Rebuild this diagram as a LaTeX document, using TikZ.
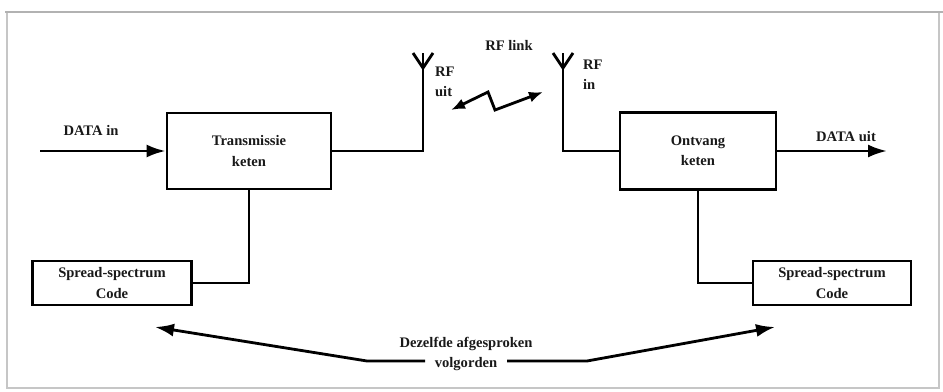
\documentclass[tikz,border=0pt]{standalone}
\usepackage{fontspec}
\setmainfont{Liberation Serif}
\usetikzlibrary{arrows.meta, positioning}

\begin{document}
\begin{tikzpicture}[
    x=0.02cm, y=-0.02cm,
    every node/.style={font=\bfseries\fontsize{8.3}{11.5}\selectfont, text=black!90},
    block/.style={draw, rectangle, line width=1.6pt, align=center, fill=white},
    codebox/.style={block, minimum height=0.88cm},
    wire/.style={line width=1.6pt},
    arrow/.style={wire, -{Latex[length=3.8mm, width=2.6mm]}},
    ziparrow/.style={wire, {Latex[length=2.8mm, width=2.2mm]}-{Latex[length=2.8mm, width=2.2mm]}},
    label/.style={align=center, inner sep=1pt}
  ]
    \useasboundingbox (0,0) rectangle (943,392);
    % Frame
    \draw[gray!45, line width=0.6pt] (7,12) rectangle (939,388);
    \draw[gray!60, line width=1.6pt] (5,12) -- (943,12);

    % Nodes (blocks)
    \node[block, minimum width=3.28cm, minimum height=1.52cm] (trans) at (249,151) {Transmissie\\keten};
    \node[block, minimum width=3.12cm, minimum height=1.54cm] (recv) at (698,151) {Ontvang\\keten};
    \node[codebox, minimum width=3.18cm] (codeL) at (112,283) {Spread-spectrum\\Code};
    \node[codebox, minimum width=3.16cm] (codeR) at (832,283) {Spread-spectrum\\Code};

    % Labels
    \node[label] (datain) at (91,130) {DATA in};
    \node[label] (dataout) at (846,137) {DATA uit};
    \node[label, align=left, anchor=west] (rfuit) at (433,82) {RF\\uit};
    \node[label, align=left, anchor=west] (rfin) at (581,75) {RF\\in};
    \node[label] (rflink) at (509,45) {RF link};
    \node[label] (same) at (466,354) {Dezelfde afgesproken\\volgorden};

    % Coordinates
    \coordinate (inL) at (40,151);
    \coordinate (outR) at (887,151);
    \coordinate (antL) at (423,151);
    \coordinate (antLtop) at (423,53);
    \coordinate (antR) at (563,151);
    \coordinate (antRtop) at (563,53);
    \coordinate (zA) at (451,110);
    \coordinate (zB) at (488,92);
    \coordinate (zC) at (495,110);
    \coordinate (zD) at (543,92);
    \coordinate (tipL) at (155,327);
    \coordinate (bendL) at (367,361);
    \coordinate (gapL) at (425,361);
    \coordinate (gapR) at (507,361);
    \coordinate (bendR) at (587,361);
    \coordinate (tipR) at (775,327);

    % Antennas
    \draw[wire] (trans.east) -- (antL) -- (antLtop);
    \draw[wire] (413,53) -- (423,68) -- (433,53);
    \draw[wire] (recv.west) -- (antR) -- (antRtop);
    \draw[wire] (553,53) -- (563,68) -- (573,53);

    % Connections
    \draw[arrow] (inL) -- (trans.west);
    \draw[arrow] (recv.east) -- (outR);
    \draw[wire] (trans.south) |- (codeL.east);
    \draw[wire] (recv.south) |- (codeR.west);
    \draw[ziparrow] (zA) -- (zB) -- (zC) -- (zD);
    \draw[arrow] (gapL) -- (bendL) -- (tipL);
    \draw[arrow] (gapR) -- (bendR) -- (tipR);

  \end{tikzpicture}
\end{document}
